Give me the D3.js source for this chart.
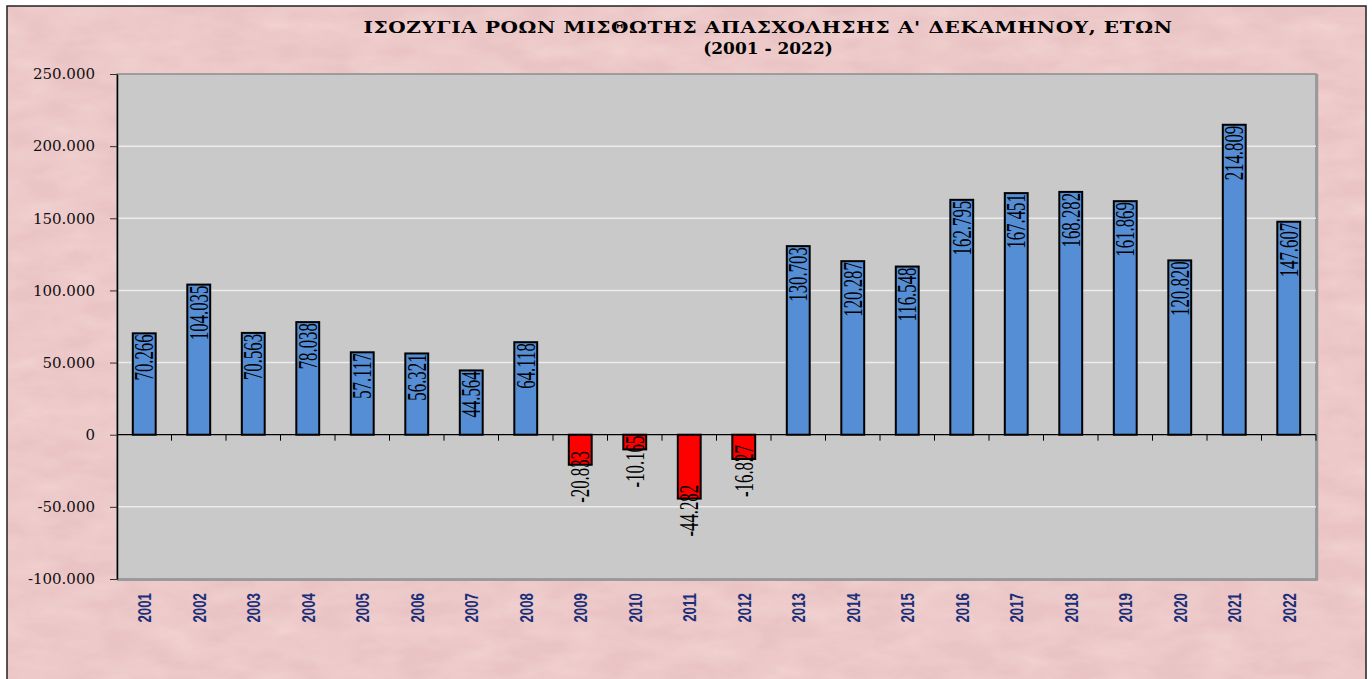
<!DOCTYPE html>
<html>
<head>
<meta charset="utf-8">
<script src="https://cdn.jsdelivr.net/npm/d3@7"></script>
<style>
  body { margin: 0; background: #fff; }
  svg { display: block; }
</style>
</head>
<body>
<svg id="chart"></svg>
<script>
const width = 1372;
const height = 679;

const years = ['2001', '2002', '2003', '2004', '2005', '2006', '2007', '2008', '2009', '2010', '2011',
               '2012', '2013', '2014', '2015', '2016', '2017', '2018', '2019', '2020', '2021', '2022'];
const balance = [70266, 104035, 70563, 78038, 57117, 56321, 44564, 64118, -20833, -10165, -44282,
                 -16827, 130703, 120287, 116548, 162795, 167451, 168282, 161869, 120820, 214809, 147607];
const yTicks = [-100000, -50000, 0, 50000, 100000, 150000, 200000, 250000];
const titleLines = ["ΙΣΟΖΥΓΙΑ ΡΟΩΝ ΜΙΣΘΩΤΗΣ ΑΠΑΣΧΟΛΗΣΗΣ Α' ΔΕΚΑΜΗΝΟΥ, ΕΤΩΝ", '(2001 - 2022)'];

const plot = {left: 117, right: 1316, top: 74, bottom: 579};

// greek style thousands: 250.000, plain hyphen for minus
const fmt = d => d3.format(',')(d).replace(/,/g, '.').replace('\u2212', '-');

const svg = d3.select('#chart').attr('width', width).attr('height', height);

// pink paper texture
const defs = svg.append('defs');
const f = defs.append('filter').attr('id', 'paper')
  .attr('x', 0).attr('y', 0).attr('width', 1).attr('height', 1)
  .attr('color-interpolation-filters', 'sRGB');
f.append('feTurbulence').attr('type', 'fractalNoise').attr('baseFrequency', '0.02 0.05')
  .attr('numOctaves', 4).attr('seed', 7).attr('result', 'noise');
f.append('feColorMatrix').attr('in', 'noise').attr('type', 'matrix')
  .attr('values', '0 0 0 0 0.97  0 0 0 0 0.86  0 0 0 0 0.86  0 0 0 0.9 -0.25')
  .attr('result', 'tint');
f.append('feComposite').attr('in', 'tint').attr('in2', 'SourceGraphic').attr('operator', 'atop');

svg.append('rect').attr('width', width).attr('height', height).attr('fill', '#fff');
svg.append('rect').attr('x', 7).attr('y', 6).attr('width', 1359).attr('height', 690)
  .attr('fill', '#eac4c4').attr('filter', 'url(#paper)');
svg.append('rect').attr('x', 7).attr('y', 6).attr('width', 1359).attr('height', 690)
  .attr('fill', 'none').attr('stroke', '#222').attr('stroke-width', 1.5);

const x = d3.scaleBand().domain(years).range([plot.left, plot.right]).paddingInner(0.58).paddingOuter(0.29);
const y = d3.scaleLinear().domain([-100000, 250000]).range([plot.bottom, plot.top]);

// plot area
svg.append('rect')
  .attr('x', plot.left).attr('y', plot.top)
  .attr('width', plot.right - plot.left).attr('height', plot.bottom - plot.top)
  .attr('fill', '#c9c9c9')
  .attr('stroke', '#8c8c8c').attr('stroke-width', 1.5);
svg.append('line')
  .attr('x1', plot.right + 1).attr('x2', plot.right + 1)
  .attr('y1', plot.top).attr('y2', plot.bottom + 1)
  .attr('stroke', '#9a9a9a').attr('stroke-width', 2.5);
svg.append('line')
  .attr('x1', plot.left).attr('x2', plot.right + 2)
  .attr('y1', plot.bottom + 1).attr('y2', plot.bottom + 1)
  .attr('stroke', '#9a9a9a').attr('stroke-width', 2);

// gridlines
svg.append('g').selectAll('line')
  .data(yTicks.filter(d => d !== 0 && d !== 250000 && d !== -100000))
  .enter().append('line')
  .attr('x1', plot.left).attr('x2', plot.right)
  .attr('y1', d => y(d)).attr('y2', d => y(d))
  .attr('stroke', '#ececec').attr('stroke-width', 1.5);

// y axis
const yAxis = svg.append('g').attr('transform', `translate(${plot.left}, 0)`)
  .call(d3.axisLeft(y).tickValues(yTicks).tickFormat(fmt).tickSizeInner(7).tickSizeOuter(0).tickPadding(15));
yAxis.select('.domain').attr('stroke', '#000').attr('stroke-width', 1.5);
yAxis.selectAll('.tick line').attr('stroke', '#333');
yAxis.selectAll('.tick text')
  .attr('font-family', '"DejaVu Serif", serif').attr('font-size', 15).attr('fill', '#111');

// bars
svg.append('g').selectAll('rect')
  .data(balance)
  .enter().append('rect')
  .attr('x', (d, i) => x(years[i]))
  .attr('y', d => y(Math.max(0, d)))
  .attr('width', x.bandwidth())
  .attr('height', d => Math.abs(y(d) - y(0)))
  .attr('fill', d => d < 0 ? '#ff0000' : '#558ed5')
  .attr('stroke', '#000').attr('stroke-width', 2);

// zero axis with ticks at category boundaries
const xAxis = svg.append('g').attr('transform', `translate(0, ${y(0)})`);
xAxis.append('line')
  .attr('x1', plot.left).attr('x2', plot.right)
  .attr('stroke', '#000').attr('stroke-width', 1.2);
xAxis.selectAll('.sep')
  .data(years.slice(1).concat(['end']))
  .enter().append('line')
  .attr('class', 'sep')
  .attr('x1', (d, i) => plot.left + (i + 1) * x.step())
  .attr('x2', (d, i) => plot.left + (i + 1) * x.step())
  .attr('y1', 0).attr('y2', 6)
  .attr('stroke', '#000').attr('stroke-width', 1);

// value labels
svg.append('g').selectAll('text')
  .data(balance)
  .enter().append('text')
  .attr('transform', (d, i) => {
    const cx = x(years[i]) + x.bandwidth() / 2;
    const yy = d >= 0 ? y(d) + 1 : y(d) + 38;
    return `translate(${cx}, ${yy}) rotate(-90) scale(0.6, 1)`;
  })
  .attr('text-anchor', d => d >= 0 ? 'end' : 'start')
  .attr('y', 9)
  .attr('font-family', '"Liberation Serif", "Times New Roman", serif')
  .attr('font-size', 28)
  .attr('fill', '#000')
  .text(fmt);

// category labels
svg.append('g').selectAll('text')
  .data(years)
  .enter().append('text')
  .attr('transform', d => `translate(${x(d) + x.bandwidth() / 2}, 593) rotate(-90) scale(0.7, 1)`)
  .attr('text-anchor', 'end')
  .attr('y', 7)
  .attr('font-family', '"Liberation Sans", Arial, sans-serif')
  .attr('font-weight', 'bold')
  .attr('font-size', 19)
  .attr('fill', '#1a2f78')
  .text(d => d);

// title (wide bold serif)
svg.append('g').selectAll('text')
  .data(titleLines)
  .enter().append('text')
  .attr('transform', (d, i) => i === 0
    ? `translate(768, 33) scale(1.25, 1)`
    : `translate(768, 54)`)
  .attr('text-anchor', 'middle')
  .attr('font-family', '"DejaVu Serif", serif')
  .attr('font-weight', 'bold')
  .attr('font-size', (d, i) => i === 0 ? 16 : 17)
  .attr('letter-spacing', (d, i) => i === 0 ? 0.5 : 0)
  .attr('fill', '#000')
  .text(d => d);
</script>
</body>
</html>
